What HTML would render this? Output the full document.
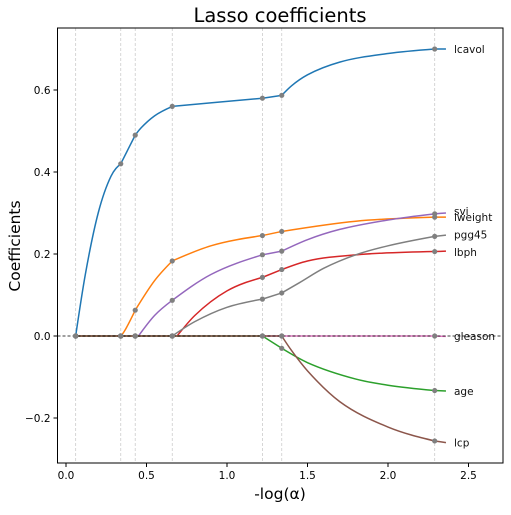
<!DOCTYPE html>
<html><head><meta charset="utf-8"><style>body{margin:0;background:#fff}svg{font-family:"DejaVu Sans","Liberation Sans",sans-serif}</style></head>
<body>
<svg id="c" width="511" height="510"></svg>
<script>
const alphas=[0.06,0.34,0.43,0.66,1.22,1.34,2.29];
const names=["lcavol","lweight","svi","lbph","pgg45","gleason","age","lcp"];
const colors=["#1f77b4","#ff7f0e","#9467bd","#d62728","#7f7f7f","#e377c2","#2ca02c","#8c564b"];
const xs_lcavol=[0.06,0.12,0.2,0.28,0.34,0.43,0.46,0.55,0.66,1.22,1.34,1.4,1.5,1.7,2.0,2.29,2.36];
const ys_lcavol=[0,0.15,0.3,0.39,0.42,0.49,0.505,0.537,0.56,0.58,0.587,0.61,0.637,0.668,0.689,0.70,0.70];
const xs_lweight=[0.34,0.36,0.43,0.55,0.66,0.9,1.22,1.34,1.8,2.29,2.36];
const ys_lweight=[0,0.01,0.063,0.135,0.183,0.22,0.245,0.255,0.28,0.29,0.29];
const xs_svi=[0.45,0.55,0.66,0.9,1.22,1.34,1.5,1.7,2.0,2.29,2.36];
const ys_svi=[0,0.05,0.087,0.15,0.198,0.207,0.235,0.26,0.283,0.298,0.30];
const xs_lbph=[0.69,0.8,1.0,1.22,1.34,1.5,1.8,2.29,2.36];
const ys_lbph=[0,0.05,0.11,0.143,0.162,0.183,0.198,0.206,0.207];
const xs_pgg45=[0.66,0.8,1.0,1.22,1.34,1.45,1.6,1.8,2.0,2.29,2.36];
const ys_pgg45=[0,0.035,0.07,0.09,0.105,0.13,0.165,0.198,0.22,0.243,0.246];
const xs_gleason=[0.06,2.29,2.36];
const ys_gleason=[0,0,-0.001];
const xs_age=[1.22,1.34,1.5,1.8,2.0,2.29,2.36];
const ys_age=[0,-0.03,-0.065,-0.105,-0.12,-0.133,-0.134];
const xs_lcp=[1.34,1.4,1.5,1.7,2.0,2.29,2.36];
const ys_lcp=[0,-0.035,-0.085,-0.16,-0.222,-0.256,-0.26];
const labelY=[0.70,0.29,0.305,0.205,0.248,0,-0.134,-0.26];
const xTicks=[0,0.5,1.0,1.5,2.0,2.5];
const yTicks=[-0.2,0,0.2,0.4,0.6];

const X=v=>66+v*161, Y=v=>336-v*410;
const L=57.5,R=503,T=28,B=463;
const svg=document.getElementById('c');const NS="http://www.w3.org/2000/svg";
function el(t,a,txt){const e=document.createElementNS(NS,t);for(const k in a)e.setAttribute(k,a[k]);if(txt!==undefined)e.textContent=txt;svg.appendChild(e);return e;}
const series=[[xs_lcavol,ys_lcavol],[xs_lweight,ys_lweight],[xs_svi,ys_svi],[xs_lbph,ys_lbph],[xs_pgg45,ys_pgg45],[xs_gleason,ys_gleason],[xs_age,ys_age],[xs_lcp,ys_lcp]];
function valAt(s,x){const [xs,ys]=s;if(x<=xs[0])return 0;for(let i=1;i<xs.length;i++){if(x<=xs[i]){const t=(x-xs[i-1])/(xs[i]-xs[i-1]||1);return ys[i-1]+t*(ys[i]-ys[i-1]);}}return ys[ys.length-1];}
function monoSeg(px,py,first){const n=px.length;let p=first?'M'+px[0]+','+py[0]:'';if(n<2)return p;const d=[],m=[];for(let i=0;i<n-1;i++)d.push((py[i+1]-py[i])/(px[i+1]-px[i]));
if(n===2){m[0]=d[0];m[1]=d[0];}else{m[0]=(3*d[0]-(d[0]+d[1])/2)/2;m[n-1]=(3*d[n-2]-(d[n-3]+d[n-2])/2)/2;if(m[0]*d[0]<=0)m[0]=0;if(m[n-1]*d[n-2]<=0)m[n-1]=0;}
for(let i=1;i<n-1;i++){m[i]=(d[i-1]*d[i]<=0)?0:(d[i-1]+d[i])/2;}
for(let i=0;i<n-1;i++){if(d[i]===0){m[i]=0;m[i+1]=0;continue;}const a=m[i]/d[i],b=m[i+1]/d[i];const s=a*a+b*b;if(s>9){const t=3/Math.sqrt(s);m[i]=t*a*d[i];m[i+1]=t*b*d[i];}}
for(let i=0;i<n-1;i++){const h=(px[i+1]-px[i])/3;p+=' C'+(px[i]+h)+','+(py[i]+m[i]*h)+' '+(px[i+1]-h)+','+(py[i+1]-m[i+1]*h)+' '+px[i+1]+','+py[i+1];}return p;}
alphas.forEach(a=>{const e=el('line',{x1:X(a),x2:X(a),y1:T,y2:B,stroke:'#ccc','stroke-dasharray':'3,2','stroke-width':0.8});

});
series.forEach((s,i)=>{const [xs,ys]=s;
let pts=[[0.06,valAt(s,0.06)]];
if(xs[0]>0.06)pts.push([xs[0],0]);
xs.forEach((x,j)=>{if(x>0.06&&x!==xs[0])pts.push([x,ys[j]]);});
let d='';let seg=[pts[0]];
for(let k=1;k<pts.length;k++){seg.push(pts[k]);const brk=alphas.includes(pts[k][0])||pts[k][0]===xs[0]||k===pts.length-1;
if(brk){d+=monoSeg(seg.map(q=>X(q[0])),seg.map(q=>Y(q[1])),d==='');seg=[pts[k]];}}
const p=el('path',{d:d,fill:'none',stroke:colors[i],'stroke-width':1.5,'stroke-linejoin':'round'});

});
el('line',{x1:L,x2:R,y1:Y(0),y2:Y(0),stroke:'#000','stroke-dasharray':'3,2','stroke-width':0.8});
series.forEach((s,i)=>{alphas.forEach(a=>{const c=el('circle',{cx:X(a),cy:Y(valAt(s,a)),r:2.6,fill:'#808080'});

});
const t=el('text',{x:454,y:Y(labelY[i])+4,'font-size':10.5,fill:'#111'},names[i]);

});
el('rect',{x:L,y:T,width:R-L,height:B-T,fill:'none',stroke:'#000','stroke-width':1});
xTicks.forEach(v=>{el('line',{x1:X(v),x2:X(v),y1:B,y2:B+4,stroke:'#000'});const t=el('text',{x:X(v),y:B+16,'font-size':10.5,'text-anchor':'middle'},v.toFixed(1));

});
yTicks.forEach(v=>{el('line',{x1:L-4,x2:L,y1:Y(v),y2:Y(v),stroke:'#000'});const t=el('text',{x:L-7,y:Y(v)+4,'font-size':10.5,'text-anchor':'end'},v<0?'\u2212'+Math.abs(v).toFixed(1):v.toFixed(1));

});
const ti=el('text',{x:280,y:22,'font-size':19.5,'text-anchor':'middle'},'Lasso coefficients');


const xl=el('text',{x:280,y:499,'font-size':15.5,'text-anchor':'middle'},'-log(\u03B1)');


const yl=el('text',{x:20,y:246,'font-size':15.5,'text-anchor':'middle',transform:'rotate(-90 20 246)'},'Coefficients');


</script>
</body></html>
